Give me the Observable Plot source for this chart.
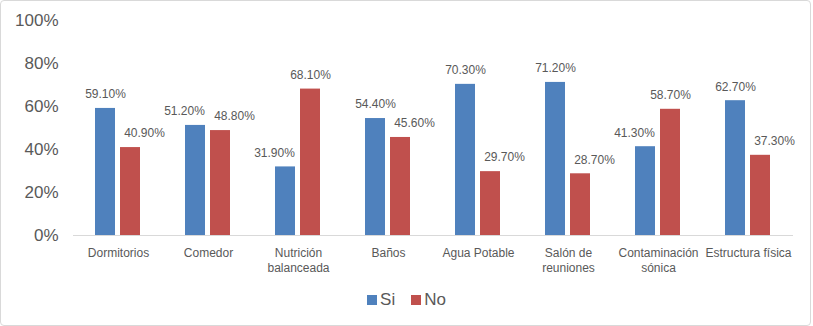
<!DOCTYPE html>
<html>
<head>
<meta charset="utf-8">
<script src="https://cdn.jsdelivr.net/npm/d3@7"></script>
<script src="https://cdn.jsdelivr.net/npm/@observablehq/plot@0.6"></script>
<style>
  html, body { margin: 0; padding: 0; background: #fff; }
  body { position: relative; width: 813px; height: 326px; overflow: hidden; font-family: "Liberation Sans", Arial, sans-serif; }
  #frame { position: absolute; left: 0; top: 0; width: 811px; height: 326px; box-sizing: border-box; border: 1px solid #d9d9d9; border-radius: 4px; }
  #chart { position: absolute; left: 0; top: 0; }
  #legend { position: absolute; left: 0; top: 290px; width: 813px; display: flex; justify-content: center; align-items: center; gap: 16px; color: #595959; font-size: 17px; line-height: 19px; }
  .item { display: flex; align-items: center; }
  .sw { width: 10px; height: 10px; margin-right: 3px; }
</style>
</head>
<body>
<div id="frame"></div>
<div id="chart"></div>
<div id="legend"></div>
<script>
const categories = ["Dormitorios", "Comedor", "Nutrición\nbalanceada", "Baños", "Agua Potable", "Salón de\nreuniones", "Contaminación\nsónica", "Estructura física"];
const si = [59.1, 51.2, 31.9, 54.4, 70.3, 71.2, 41.3, 62.7];
const no = [40.9, 48.8, 68.1, 45.6, 29.7, 28.7, 58.7, 37.3];
const series = ["Si", "No"];
const colors = ["#4f81bd", "#c0504d"];
const yTicks = [0, 20, 40, 60, 80, 100];

const data = [];
categories.forEach((c, i) => {
  const pair = [si[i], no[i]];
  const close = Math.abs(si[i] - no[i]) < 5;
  series.forEach((s, j) => {
    const v = pair[j];
    const other = pair[1 - j];
    let shift = "center";
    if (close || v < other) shift = j === 0 ? "left" : "right";
    data.push({category: c, series: s, value: v, shift});
  });
});

const fmt = v => v.toFixed(2) + "%";
const textOpts = {fx: "category", x: "series", y: "value", text: d => fmt(d.value), fill: "#595959", fontSize: 12, dy: -14, lineAnchor: "middle"};

const chart = Plot.plot({
  width: 813,
  height: 282,
  marginLeft: 72,
  marginRight: 20,
  marginTop: 20,
  marginBottom: 47,
  style: {fontFamily: "'Liberation Sans', Arial, sans-serif", color: "#595959", background: "transparent"},
  fx: {domain: categories, padding: 0, label: null},
  x: {domain: series, paddingInner: 0.196, paddingOuter: 0.8625, axis: null},
  y: {domain: [0, 100], label: null},
  color: {domain: series, range: colors},
  marks: [
    Plot.axisY({ticks: yTicks, tickFormat: d => d + "%", fontSize: 17, tickSize: 0, tickPadding: 15, anchor: "left", label: null}),
    Plot.axisFx({anchor: "bottom", fontSize: 12, tickSize: 0, tickPadding: 11, lineHeight: 1.25, label: null}),
    Plot.barY(data, {fx: "category", x: "series", y: "value", fill: "series"}),
    Plot.ruleY([0], {stroke: "#d9d9d9"}),
    Plot.text(data.filter(d => d.shift === "center"), textOpts),
    Plot.text(data.filter(d => d.shift === "left"), {...textOpts, dx: -11}),
    Plot.text(data.filter(d => d.shift === "right"), {...textOpts, dx: 14})
  ]
});
document.getElementById("chart").appendChild(chart);

const legend = document.getElementById("legend");
series.forEach((s, i) => {
  const item = document.createElement("div");
  item.className = "item";
  const sw = document.createElement("span");
  sw.className = "sw";
  sw.style.background = colors[i];
  const t = document.createElement("span");
  t.textContent = s;
  item.appendChild(sw);
  item.appendChild(t);
  legend.appendChild(item);
});
</script>
</body>
</html>
